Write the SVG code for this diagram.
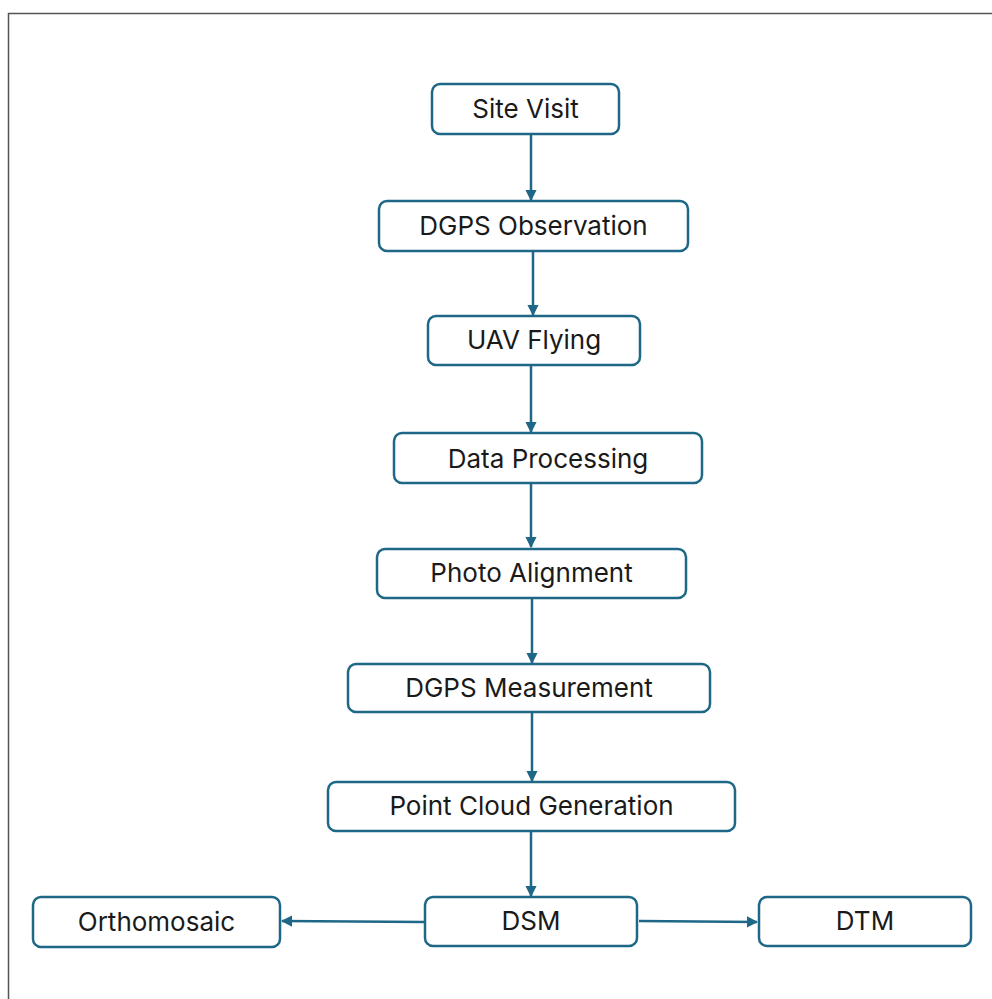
<svg xmlns="http://www.w3.org/2000/svg" width="992" height="999" viewBox="0 0 992 999">
<defs>
<style>
.box{fill:#fff;stroke:#1e6786;stroke-width:2.5}
.lbl{font-family:"Inter","Liberation Sans",sans-serif;font-size:26px;fill:#1a1a1a;text-anchor:middle;dominant-baseline:central}
.conn{stroke:#1e6786;stroke-width:2.5;fill:none;marker-end:url(#ah)}
</style>
<marker id="ah" viewBox="0 0 10 10" refX="9" refY="5" markerWidth="4.5" markerHeight="4.5" orient="auto" markerUnits="strokeWidth">
<path d="M0,0 L10,5 L0,10 z" fill="#1e6786"/>
</marker>
</defs>
<rect x="8.5" y="13.5" width="1000" height="1000" fill="#fff" stroke="#555" stroke-width="1.5"/>
<g id="connectors">
<line class="conn" x1="531" y1="135" x2="531" y2="200"/>
<line class="conn" x1="533" y1="252" x2="533" y2="315"/>
<line class="conn" x1="531" y1="366" x2="531" y2="432"/>
<line class="conn" x1="531" y1="484" x2="531" y2="547"/>
<line class="conn" x1="532" y1="599" x2="532" y2="663"/>
<line class="conn" x1="532" y1="713" x2="532" y2="781"/>
<line class="conn" x1="531" y1="832" x2="531" y2="896"/>
<line class="conn" x1="424" y1="922" x2="282" y2="921"/>
<line class="conn" x1="639" y1="921" x2="757" y2="922"/>
</g>
<g id="site-visit"><rect class="box" x="432" y="84" width="187" height="50" rx="8"/><text class="lbl" x="525.5" y="108">Site Visit</text></g>
<g id="dgps-observation"><rect class="box" x="379" y="201" width="309" height="50" rx="8"/><text class="lbl" x="533.5" y="225">DGPS Observation</text></g>
<g id="uav-flying"><rect class="box" x="428" y="316" width="212" height="49" rx="8"/><text class="lbl" x="534" y="339">UAV Flying</text></g>
<g id="data-processing"><rect class="box" x="394" y="433" width="308" height="50" rx="8"/><text class="lbl" x="548" y="458">Data Processing</text></g>
<g id="photo-alignment"><rect class="box" x="377" y="549" width="309" height="49" rx="8"/><text class="lbl" x="531.5" y="572">Photo Alignment</text></g>
<g id="dgps-measurement"><rect class="box" x="348" y="664" width="362" height="48" rx="8"/><text class="lbl" x="529" y="687">DGPS Measurement</text></g>
<g id="point-cloud-generation"><rect class="box" x="328" y="782" width="407" height="49" rx="8"/><text class="lbl" x="531.5" y="805">Point Cloud Generation</text></g>
<g id="dsm"><rect class="box" x="425" y="897" width="212" height="49" rx="8"/><text class="lbl" x="531" y="920">DSM</text></g>
<g id="orthomosaic"><rect class="box" x="33" y="897" width="247" height="50" rx="8"/><text class="lbl" x="156.5" y="921">Orthomosaic</text></g>
<g id="dtm"><rect class="box" x="759" y="897" width="212" height="49" rx="8"/><text class="lbl" x="865" y="920">DTM</text></g>
</svg>
